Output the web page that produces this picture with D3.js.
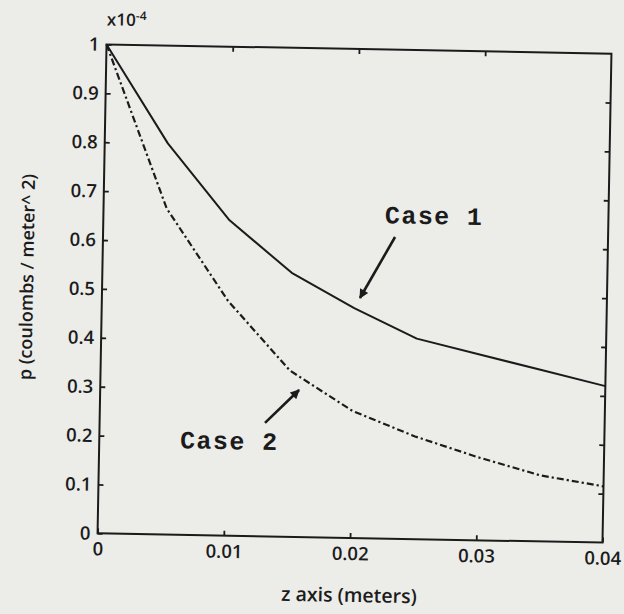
<!DOCTYPE html>
<html>
<head>
<meta charset="utf-8">
<script src="https://cdn.jsdelivr.net/npm/d3@7"></script>
<style>
  html, body { margin: 0; padding: 0; background: #ecece9; }
  svg { display: block; }
</style>
</head>
<body>
<svg id="chart" width="624" height="614"></svg>
<script>
// Charge density along z for the two cases (values in units of 1e-4 C/m^2)
const zValues = [0, 0.005, 0.01, 0.015, 0.02, 0.025, 0.03, 0.035, 0.04];
const case1 = [1, 0.80, 0.645, 0.54, 0.47, 0.41, 0.38, 0.35, 0.32];
const case2 = [1, 0.667, 0.48, 0.34, 0.26, 0.21, 0.17, 0.135, 0.115];

const xTicks = [0, 0.01, 0.02, 0.03, 0.04];
const xTickLabels = ["0", "0.01", "0.02", "0.03", "0.04"];
const yTicks = [0, 0.1, 0.2, 0.3, 0.4, 0.5, 0.6, 0.7, 0.8, 0.9, 1];
const yTickLabels = ["0", "0.1", "0.2", "0.3", "0.4", "0.5", "0.6", "0.7", "0.8", "0.9", "1"];

const xLabel = "z axis (meters)";
const yLabel = "p (coulombs / meter^ 2)";
const annotations = [
  { text: "Case 1", at: [0.0223, 0.645], from: [0.02313, 0.617], to: [0.02044, 0.491] },
  { text: "Case 2", at: [0.0064, 0.177], from: [0.0131, 0.232], to: [0.01575, 0.3006] }
];

const ink = "#1b1b1b";
const tickFont = "'Open Sans', sans-serif";

const frame = { left: 102, right: 607, top: 49, bottom: 538 };

const svg = d3.select("#chart");

const defs = svg.append("defs");
defs.append("marker")
  .attr("id", "head")
  .attr("viewBox", "0 0 10 10")
  .attr("refX", 9).attr("refY", 5)
  .attr("markerWidth", 4.2).attr("markerHeight", 3.6)
  .attr("markerUnits", "strokeWidth")
  .attr("orient", "auto")
  .append("path")
  .attr("d", "M0,0 L10,5 L0,10 Z")
  .attr("fill", ink);

// The whole figure sits a little tilted on the page
const g = svg.append("g")
  .attr("transform", `rotate(1.05 ${(frame.left + frame.right) / 2 + 0.25} ${(frame.top + frame.bottom) / 2})`);

const x = d3.scaleLinear().domain([0, 0.04]).range([frame.left, frame.right]);
const y = d3.scaleLinear().domain([0, 1]).range([frame.bottom, frame.top]);

function styleAxis(sel, withText) {
  sel.select(".domain").remove();
  sel.selectAll(".tick line").attr("stroke", ink).attr("stroke-width", 1.8);
  sel.selectAll(".tick text")
    .attr("fill", ink)
    .style("font-family", tickFont)
    .style("font-size", "18.5px")
    .style("font-weight", 600);
  if (!withText) sel.selectAll(".tick text").remove();
}

// bottom axis with labels
g.append("g")
  .attr("transform", `translate(0,${frame.bottom})`)
  .call(d3.axisBottom(x).tickValues(xTicks)
    .tickFormat((d, i) => xTickLabels[i])
    .tickSizeInner(-5).tickSizeOuter(0).tickPadding(9))
  .call(s => styleAxis(s, true));

// left axis with labels
g.append("g")
  .attr("transform", `translate(${frame.left},0)`)
  .call(d3.axisLeft(y).tickValues(yTicks)
    .tickFormat((d, i) => yTickLabels[i])
    .tickSizeInner(-5).tickSizeOuter(0).tickPadding(7))
  .call(s => styleAxis(s, true));

// top and right axes: inward ticks only
g.append("g")
  .attr("transform", `translate(0,${frame.top})`)
  .call(d3.axisTop(x).tickValues(xTicks.slice(1, -1)).tickSizeInner(-5).tickSizeOuter(0))
  .call(s => styleAxis(s, false));

g.append("g")
  .attr("transform", `translate(${frame.right},0)`)
  .call(d3.axisRight(y).tickValues(yTicks.slice(1, -1)).tickSizeInner(-5).tickSizeOuter(0))
  .call(s => styleAxis(s, false));

// frame
g.append("rect")
  .attr("x", frame.left).attr("y", frame.top)
  .attr("width", frame.right - frame.left)
  .attr("height", frame.bottom - frame.top)
  .attr("fill", "none")
  .attr("stroke", ink)
  .attr("stroke-width", 2);

// curves
const line = d3.line().x(d => x(d[0])).y(d => y(d[1]));

g.append("path")
  .datum(zValues.map((z, i) => [z, case1[i]]))
  .attr("d", line)
  .attr("fill", "none")
  .attr("stroke", ink)
  .attr("stroke-width", 2)
  .attr("stroke-linejoin", "round");

g.append("path")
  .datum(zValues.map((z, i) => [z, case2[i]]))
  .attr("d", line)
  .attr("fill", "none")
  .attr("stroke", ink)
  .attr("stroke-width", 2.2)
  .attr("stroke-dasharray", "7,3,2.2,3");

// exponent label above the y axis
const expo = g.append("text")
  .attr("x", frame.left)
  .attr("y", frame.top - 19)
  .attr("fill", ink)
  .style("font-family", tickFont)
  .style("font-size", "17px")
  .style("font-weight", 600);
expo.append("tspan").text("x10");
expo.append("tspan").attr("dy", -6).style("font-size", "12px").text("-4");

// annotations with arrows
annotations.forEach(a => {
  g.append("line")
    .attr("x1", x(a.from[0])).attr("y1", y(a.from[1]))
    .attr("x2", x(a.to[0])).attr("y2", y(a.to[1]))
    .attr("stroke", ink)
    .attr("stroke-width", 2.6)
    .attr("marker-end", "url(#head)");
  g.append("text")
    .attr("x", x(a.at[0])).attr("y", y(a.at[1]))
    .attr("fill", ink)
    .style("font-family", "'Liberation Mono', 'DejaVu Sans Mono', monospace")
    .style("font-size", "25px")
    .style("font-weight", 700)
    .style("letter-spacing", "1.4px")
    .text(a.text);
});

// axis titles
g.append("text")
  .attr("x", (frame.left + frame.right) / 2)
  .attr("y", 602)
  .attr("text-anchor", "middle")
  .attr("fill", ink)
  .style("font-family", tickFont)
  .style("font-size", "19.5px")
  .style("font-weight", 600)
  .text(xLabel);

g.append("text")
  .attr("transform", "translate(33,283) rotate(-90)")
  .attr("text-anchor", "middle")
  .attr("fill", ink)
  .style("font-family", tickFont)
  .style("font-size", "18px")
  .style("font-weight", 600)
  .text(yLabel);
</script>
</body>
</html>
